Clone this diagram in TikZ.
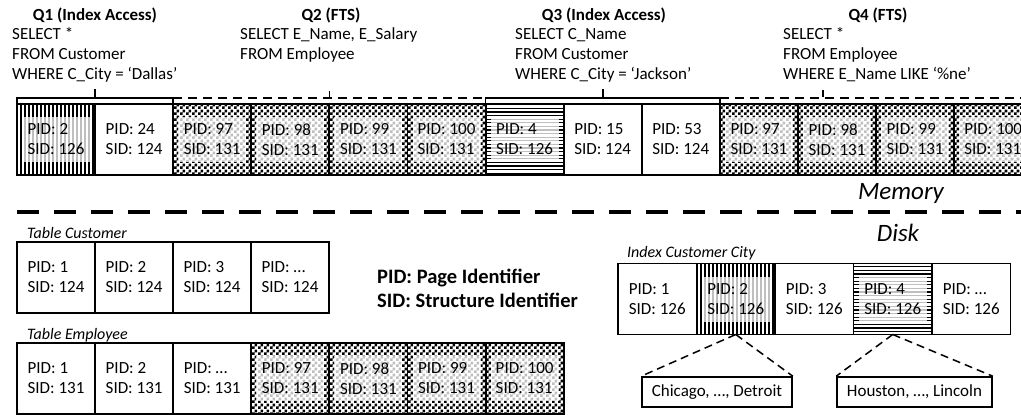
\documentclass[tikz,border=0pt]{standalone}
\usepackage{fontspec}
\setmainfont{Carlito}
\usetikzlibrary{positioning,patterns,calc}

% fill patterns for the pages
\pgfdeclarepatternformonly{vstripes}{\pgfpoint{0pt}{-1pt}}{\pgfpoint{4pt}{101pt}}{\pgfpoint{4pt}{100pt}}{%
  \pgfpathrectangle{\pgfpoint{0pt}{-1pt}}{\pgfpoint{1.6pt}{102pt}}\pgfusepath{fill}}
\pgfdeclarepatternformonly{hstripes}{\pgfpoint{-1pt}{0pt}}{\pgfpoint{101pt}{3.6pt}}{\pgfpoint{100pt}{3.6pt}}{%
  \pgfpathrectangle{\pgfpoint{-1pt}{0pt}}{\pgfpoint{102pt}{1.2pt}}\pgfusepath{fill}}
\pgfdeclarepatternformonly{bigchecker}{\pgfpointorigin}{\pgfpoint{6pt}{6pt}}{\pgfpoint{6pt}{6pt}}{%
  \pgfpathrectangle{\pgfpointorigin}{\pgfpoint{3.05pt}{3.05pt}}%
  \pgfpathrectangle{\pgfpoint{3pt}{3pt}}{\pgfpoint{3.05pt}{3.05pt}}\pgfusepath{fill}}

\begin{document}
\begin{tikzpicture}[x=1pt, y=-1pt,
    page/.style={draw, line width=1.8pt, outer sep=0pt, inner sep=0pt,
      minimum width=78pt, minimum height=71pt, align=left,
      font=\fontsize{17}{20}\selectfont},
    patfill/.style={path picture={
      \fill[pattern=#1] (path picture bounding box.south west) rectangle (path picture bounding box.north east);
      \fill[white, opacity=0.75] ([shift={(5,-13)}]path picture bounding box.south west)
        rectangle ([shift={(-5,13)}]path picture bounding box.north east);}},
    vpage/.style={page, patfill=vstripes},
    hpage/.style={page, patfill=hstripes},
    cpage/.style={page, patfill=bigchecker},
    qtitle/.style={inner sep=0pt, font=\fontsize{17}{20}\selectfont\bfseries},
    qsql/.style={inner sep=0pt, anchor=west, align=left, font=\fontsize{17}{20}\selectfont},
    bracket/.style={line width=1.6pt},
    dbracket/.style={line width=1.6pt, dash pattern=on 9pt off 6pt},
    divider/.style={line width=4.5pt, dash pattern=on 22pt off 15pt},
    area/.style={inner sep=0pt, font=\fontsize{25}{30}\selectfont\itshape},
    tlabel/.style={inner sep=0pt, anchor=west, font=\fontsize{16}{19}\selectfont\itshape},
    leaf/.style={draw, line width=1.6pt, inner sep=0pt, minimum height=30pt,
      font=\fontsize{17}{20}\selectfont},
    link/.style={line width=1.5pt, dash pattern=on 8pt off 5pt}]
\useasboundingbox (0,0) rectangle (1021,415);

% Queries
\node[qtitle] (q1) at (95,15) {Q1 (Index Access)};
\node[qsql] (q1sql) at (12,55) {SELECT *\\FROM Customer\\WHERE C\_City = `Dallas'};
\node[qtitle] (q2) at (331,15) {Q2 (FTS)};
\node[qsql] (q2sql) at (240,45) {SELECT E\_Name, E\_Salary\\FROM Employee};
\node[qtitle] (q3) at (604,15) {Q3 (Index Access)};
\node[qsql] (q3sql) at (515,55) {SELECT C\_Name\\FROM Customer\\WHERE C\_City = `Jackson'};
\node[qtitle] (q4) at (878,15) {Q4 (FTS)};
\node[qsql] (q4sql) at (783,55) {SELECT *\\FROM Employee\\WHERE E\_Name LIKE `\%ne'};

% Buffer pool in memory
\foreach \pg/\sd/\sty [count=\i from 0] in {2/126/vpage, 24/124/page,
    97/131/cpage, 98/131/cpage, 99/131/cpage, 100/131/cpage,
    4/126/hpage, 15/124/page, 53/124/page,
    97/131/cpage, 98/131/cpage, 99/131/cpage, 100/131/cpage}
  \node[\sty] (m\i) at ({56+78.1*\i},139.5) {PID: \pg\\SID: \sd};

% Brackets of the queries
\draw[bracket] (m0.north west) -- ++(0,-6) -| (m1.north east);
\coordinate (t1) at ($(m0.north)!0.5!(m1.north)$);
\draw[bracket] (t1) ++(0,-6) -- ++(0,-9);
\draw[dbracket] ([yshift=6pt]m2.north west) -- ([yshift=6pt]m5.north east);
\draw[bracket, line width=1.2pt] ([yshift=6pt]m3.north east) -- ++(0,-7);
\draw[bracket] (m6.north west) -- ++(0,-6) -| (m8.north east);
\draw[bracket] (m7.north) ++(0,-6) -- ++(0,-9);
\draw[dbracket] ([yshift=6pt]m9.north west) -- ([yshift=6pt]m12.north east);
\coordinate (t4) at (823,97);
\draw[bracket, line width=1.2pt] (t4) -- ++(0,-7);

% Memory / disk border
\draw[divider] (17,212) -- (1021,212);
\node[area] (mem) at (901,193) {Memory};
\node[area] (disk) at (898,233) {Disk};

% Table Customer
\node[tlabel] (tc) at (27,233) {Table Customer};
\foreach \pg [count=\i from 0] in {1,2,3,…}
  \node[page] (c\i) at ({56+78*\i},277.5) {PID: \pg\\SID: 124};

% Table Employee
\node[tlabel] (te) at (27,335) {Table Employee};
\foreach \pg/\sty [count=\i from 0] in {1/page, 2/page, …/page,
    97/cpage, 98/cpage, 99/cpage, 100/cpage}
  \node[\sty] (e\i) at ({56+78.1*\i},378.5) {PID: \pg\\SID: 131};

% Legend
\node[inner sep=0pt, anchor=west, align=left, font=\fontsize{20.5}{24}\selectfont\bfseries]
  (legend) at (377,288) {PID: Page Identifier\\SID: Structure Identifier};

% Index Customer City
\node[tlabel] (ti) at (627,253) {Index Customer City};
\foreach \pg/\sty [count=\i from 0] in {1/page, 2/vpage, 3/page, 4/hpage, …/page}
  \node[\sty, minimum width=78.5pt] (i\i) at ({657.25+78.5*\i},299) {PID: \pg\\SID: 126};

\node[leaf, minimum width=150pt] (l1) at (717,392) {Chicago, …, Detroit};
\node[leaf, minimum width=155pt] (l2) at (914.5,392) {Houston, …, Lincoln};
\draw[link] (i1.south) -- (l1.north west) (i1.south) -- (l1.north east);
\draw[link] (i3.south) -- (l2.north west) (i3.south) -- (l2.north east);
\end{tikzpicture}
\end{document}
